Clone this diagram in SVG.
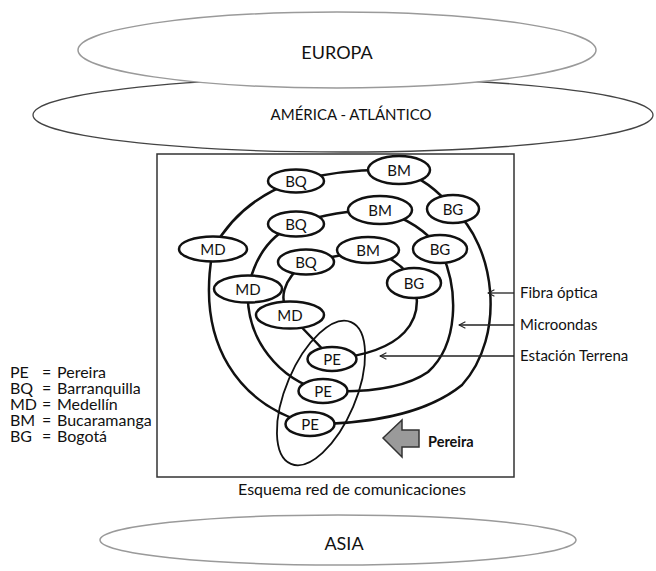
<svg xmlns="http://www.w3.org/2000/svg" width="656" height="571" viewBox="0 0 656 571">
<style>
  text { font-family: Lato, "Open Sans", "Liberation Sans", sans-serif; fill: #111; }
  .cont { fill: #fff; stroke: #9a9a9a; stroke-width: 1.5; }
  .cont2 { fill: #fff; stroke: #444; stroke-width: 1.3; }
  .node ellipse { fill: #fff; stroke: #111; stroke-width: 2.5; }
  .node text { font-size: 15px; text-anchor: middle; }
  .ring { fill: none; stroke: #111; stroke-width: 2.5; }
  .ptr { fill: none; stroke: #222; stroke-width: 1.3; }
  .lbl { font-size: 15px; }
  .leg { font-size: 16px; }
</style>
<defs>
  <marker id="open" viewBox="0 0 10 10" refX="9" refY="5" markerWidth="8" markerHeight="8" orient="auto" markerUnits="userSpaceOnUse">
    <path d="M1,1 L9,5 L1,9" fill="none" stroke="#222" stroke-width="1.3"/>
  </marker>
</defs>

<g id="america">
  <ellipse class="cont2" cx="343" cy="115" rx="310" ry="37"/>
  <text x="351" y="120" font-size="15" text-anchor="middle">AMÉRICA - ATLÁNTICO</text>
</g>
<g id="europa">
  <ellipse class="cont" cx="337" cy="50" rx="259" ry="38"/>
  <text x="337" y="59" font-size="18" text-anchor="middle">EUROPA</text>
</g>
<g id="asia">
  <ellipse class="cont" cx="338" cy="540" rx="238" ry="25"/>
  <text x="344" y="550" font-size="18" text-anchor="middle">ASIA</text>
</g>

<g id="frame">
  <rect x="157" y="154" width="357" height="323" fill="#fff" stroke="#333" stroke-width="1.5"/>
</g>

<g id="connectors">
  <!-- outer ring -->
  <path class="ring" d="M310,424 C240,405 195,345 213,249 Q240,200 296,181 Q345,168 399,170 Q430,180 453,209 C495,245 507,335 462,385 C425,415 365,424 310,424"/>
  <!-- middle ring -->
  <path class="ring" d="M323,391 C280,380 245,340 248,289 Q258,240 296,224 Q335,210 380,210 Q420,222 440,249 C460,290 458,345 428,372 C405,388 370,393 323,391"/>
  <!-- inner ring -->
  <path class="ring" d="M332,359 L290,315 C278,300 282,280 306,262 L368,250 Q400,258 414,283 C425,320 405,352 332,359"/>
  <!-- Pereira grouping -->
  <ellipse cx="321" cy="393" rx="35" ry="77" transform="rotate(23 321 393)" fill="none" stroke="#111" stroke-width="1.8"/>
  <!-- label pointers -->
  <line class="ptr" x1="514" y1="293" x2="488" y2="293" marker-end="url(#open)"/>
  <line class="ptr" x1="514" y1="325" x2="459" y2="325" marker-end="url(#open)"/>
  <line class="ptr" x1="514" y1="356" x2="380" y2="356" marker-end="url(#open)"/>
  <!-- Pereira arrow -->
  <polygon points="383,438 402,420 402,430 419,430 419,447 402,447 402,457" fill="#9a9a9a" stroke="#333" stroke-width="1.5" stroke-linejoin="miter"/>
</g>

<g id="n-bq1" class="node"><ellipse cx="296" cy="181" rx="28" ry="11.5"/><text x="296" y="186.5">BQ</text></g>
<g id="n-bm1" class="node"><ellipse cx="399" cy="170" rx="31" ry="14"/><text x="399" y="175.5">BM</text></g>
<g id="n-bg1" class="node"><ellipse cx="453" cy="209" rx="26" ry="14"/><text x="453" y="214.5">BG</text></g>
<g id="n-bq2" class="node"><ellipse cx="296" cy="224" rx="28" ry="12.5"/><text x="296" y="229.5">BQ</text></g>
<g id="n-bm2" class="node"><ellipse cx="380" cy="210" rx="32" ry="14"/><text x="380" y="215.5">BM</text></g>
<g id="n-bg2" class="node"><ellipse cx="440" cy="249" rx="27" ry="14"/><text x="440" y="254.5">BG</text></g>
<g id="n-md1" class="node"><ellipse cx="213" cy="249" rx="34" ry="12.5"/><text x="213" y="254.5">MD</text></g>
<g id="n-bq3" class="node"><ellipse cx="306" cy="262" rx="28" ry="12.5"/><text x="306" y="267.5">BQ</text></g>
<g id="n-bm3" class="node"><ellipse cx="368" cy="250" rx="31" ry="13"/><text x="368" y="255.5">BM</text></g>
<g id="n-bg3" class="node"><ellipse cx="414" cy="283" rx="27" ry="15"/><text x="414" y="288.5">BG</text></g>
<g id="n-md2" class="node"><ellipse cx="248" cy="289" rx="34" ry="13.5"/><text x="248" y="294.5">MD</text></g>
<g id="n-md3" class="node"><ellipse cx="290" cy="315" rx="34" ry="13.5"/><text x="290" y="320.5">MD</text></g>
<g id="n-pe1" class="node"><ellipse cx="332" cy="359" rx="24.5" ry="12"/><text x="332" y="364.5">PE</text></g>
<g id="n-pe2" class="node"><ellipse cx="323" cy="391" rx="24.5" ry="12"/><text x="323" y="396.5">PE</text></g>
<g id="n-pe3" class="node"><ellipse cx="310" cy="424" rx="24.5" ry="12"/><text x="310" y="429.5">PE</text></g>

<g id="labels">
  <text class="lbl" x="520" y="298">Fibra óptica</text>
  <text class="lbl" x="520" y="330">Microondas</text>
  <text class="lbl" x="520" y="361">Estación Terrena</text>
  <text x="428" y="447" font-size="14.5" font-weight="bold">Pereira</text>
  <text x="352" y="495" font-size="16" text-anchor="middle">Esquema red de comunicaciones</text>
</g>

<g id="legend">
  <text class="leg" y="378"><tspan x="10">PE</tspan><tspan x="42">=</tspan><tspan x="57">Pereira</tspan></text>
  <text class="leg" y="394"><tspan x="10">BQ</tspan><tspan x="42">=</tspan><tspan x="57">Barranquilla</tspan></text>
  <text class="leg" y="410"><tspan x="10">MD</tspan><tspan x="42">=</tspan><tspan x="57">Medellín</tspan></text>
  <text class="leg" y="426"><tspan x="10">BM</tspan><tspan x="42">=</tspan><tspan x="57">Bucaramanga</tspan></text>
  <text class="leg" y="442"><tspan x="10">BG</tspan><tspan x="42">=</tspan><tspan x="57">Bogotá</tspan></text>
</g>
</svg>
